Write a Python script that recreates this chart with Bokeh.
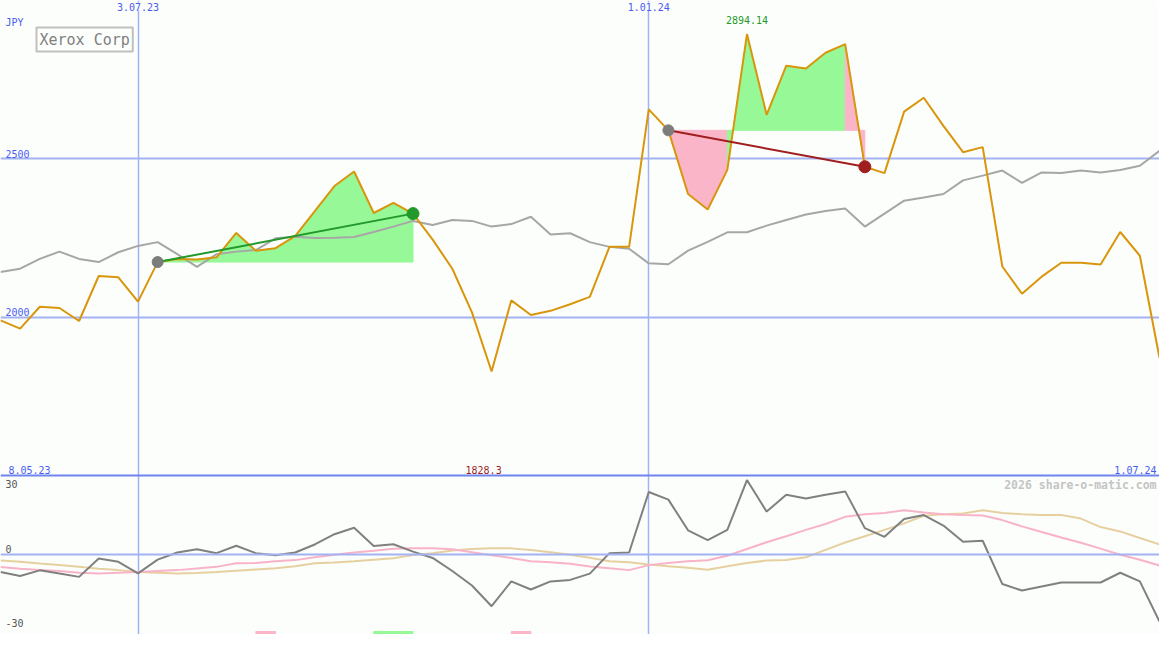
import pandas as pd
from bokeh.plotting import figure
from bokeh.models import Range1d, FixedTicker, Span, Label
from bokeh.embed import file_html
from bokeh.resources import INLINE

# ---------------- data ----------------
dates = pd.date_range("2023-05-15", periods=60, freq="7D")

price = [1990, 1964, 2033, 2029, 1988, 2130, 2126, 2049, 2174, 2184,
         2182, 2189, 2266, 2210, 2218, 2256, 2335, 2414, 2460, 2329,
         2361, 2327, 2245, 2153, 2015, 1828.3, 2053, 2007, 2020, 2041,
         2064, 2222, 2222, 2656, 2590, 2389, 2340, 2465, 2894.14, 2639,
         2794, 2785, 2835, 2862, 2475, 2455, 2649, 2693, 2604, 2521,
         2537, 2160, 2074, 2128, 2172, 2172, 2166, 2269, 2194, 1872]

avg = [2143, 2153, 2184, 2207, 2184, 2174, 2205, 2225, 2237, 2199,
       2159, 2199, 2207, 2212, 2249, 2254, 2250, 2251, 2253, 2269,
       2286, 2304, 2291, 2307, 2304, 2286, 2294, 2317, 2261, 2265,
       2237, 2222, 2216, 2170, 2167, 2210, 2238, 2268, 2268, 2289,
       2307, 2324, 2335, 2343, 2286, 2327, 2368, 2378, 2389, 2432,
       2447, 2463, 2424, 2457, 2455, 2463, 2457, 2465, 2478, 2525]

momentum = [-8.1, -9.9, -7.3, -8.8, -10.3, -1.9, -3.4, -8.7, -2.4, 0.9,
            2.4, 0.6, 4.0, 0.6, -0.4, 0.9, 4.6, 9.3, 12.3, 3.9,
            4.7, 1.3, -1.6, -7.6, -14.3, -23.8, -12.4, -16.1, -12.4, -11.7,
            -8.8, 0.6, 0.9, 28.7, 25.2, 11.1, 6.6, 11.3, 34.2, 19.7,
            27.5, 25.7, 27.5, 29.0, 12.1, 8.1, 16.3, 18.1, 13.3, 5.8,
            6.3, -13.6, -16.6, -14.7, -12.9, -12.9, -12.9, -8.4, -12.4, -30.8]

osc_pink = [-5.8, -6.6, -7.2, -7.6, -8.4, -8.8, -8.4, -8.1, -7.6, -7.2,
            -6.4, -5.7, -4.0, -3.9, -3.1, -2.6, -1.3, -0.1, 0.9, 1.7,
            2.6, 2.8, 2.8, 2.4, 1.0, -0.4, -1.6, -3.1, -3.6, -4.3,
            -5.5, -6.3, -7.2, -4.9, -3.9, -3.1, -2.7, -0.6, 2.5, 5.6,
            8.4, 11.3, 14.0, 17.3, 18.5, 19.1, 20.3, 19.3, 18.5, 18.1,
            17.9, 15.8, 12.9, 10.3, 7.8, 5.4, 2.7, -0.1, -2.4, -5.1]

osc_tan = [-2.8, -3.4, -4.2, -4.8, -5.7, -6.6, -7.2, -8.1, -8.4, -8.8,
           -8.5, -8.1, -7.5, -6.9, -6.3, -5.4, -4.0, -3.7, -3.1, -2.4,
           -1.7, -0.3, 0.6, 1.8, 2.5, 2.8, 2.8, 2.1, 1.0, -0.1,
           -1.5, -3.1, -3.6, -4.6, -5.4, -6.1, -7.0, -5.4, -3.9, -2.8,
           -2.5, -1.3, 2.1, 5.5, 8.4, 11.3, 14.3, 17.8, 18.5, 18.8,
           20.3, 19.1, 18.5, 18.1, 18.1, 16.5, 12.6, 10.6, 7.6, 4.6]

trade_entry = [8, 34]
trade_exit = [21, 44]

signal_start = [13, 19, 26]
signal_end = [14, 21, 27]
signal_kind = ["sell", "buy", "sell"]

price_ticks = [2000, 2500]
osc_ticks = [30, 0, -30]
date_ticks = ["2023-07-03", "2024-01-01"]
date_tick_labels = ["3.07.23", "1.01.24"]
range_labels = ["8.05.23", "1.07.24"]
currency = "JPY"
title = "Xerox Corp"
credit = "2026 share-o-matic.com"

# ---------------- style ----------------
BG = "#fcfefc"
GRID = "#a3b2f2"
SEP = "#7084ee"
BLUE_TXT = "#4a5cf0"
ORANGE = "#d9960c"
AVG_GRAY = "#a6a6a6"
MOM_GRAY = "#808080"
PINK_LINE = "#f9b3c8"
TAN_LINE = "#e6d0a0"
FILL_GREEN = "#97f897"
FILL_PINK = "#fbb5c9"
WIN = "#22992a"
LOSS = "#a01e1e"
FONT = "DejaVu Sans Mono"

W, H = 1159, 634
top_px = H * 487 / 650
bot_px = H - top_px
p_hi, p_lo = 3000.0, 1500.0
upp = (p_hi - p_lo) / top_px
y_lo = p_lo - bot_px * upp
o_hi, o_lo = 36.3, -36.8
oupp = (o_hi - o_lo) / bot_px
o_top = o_hi + top_px * oupp

xms = list(dates.asi8 / 1e6)

p = figure(width=W, height=H, x_axis_type="datetime",
           x_range=Range1d(xms[0], xms[-1]), y_range=Range1d(y_lo, p_hi),
           output_backend="svg", toolbar_location=None, min_border=0,
           background_fill_color=BG, border_fill_color=BG, outline_line_color=None)
p.extra_y_ranges = {"osc": Range1d(o_lo, o_top)}
p.xaxis.visible = False
p.yaxis.visible = False

p.xgrid.ticker = FixedTicker(ticks=[pd.Timestamp(d).value / 1e6 for d in date_ticks])
p.xgrid.grid_line_color = GRID
p.xgrid.grid_line_width = 1.5
p.ygrid.ticker = FixedTicker(ticks=price_ticks)
p.ygrid.grid_line_color = GRID
p.ygrid.grid_line_width = 2

p.add_layout(Span(location=0, dimension="width", y_range_name="osc",
                  line_color=GRID, line_width=2))
p.add_layout(Span(location=p_lo, dimension="width", line_color=SEP, line_width=2))

# trade fills, per segment between price and entry level
xs, ys, cols = [], [], []
for e, x in zip(trade_entry, trade_exit):
    lvl = price[e]
    for i in range(e, x):
        xs.append([xms[i], xms[i + 1], xms[i + 1], xms[i]])
        ys.append([price[i], price[i + 1], lvl, lvl])
        cols.append(FILL_GREEN if price[i + 1] > lvl else FILL_PINK)
p.patches(xs, ys, fill_color=cols, line_color=cols, line_width=1)

p.line(xms, avg, line_color=AVG_GRAY, line_width=2)
p.line(xms, price, line_color=ORANGE, line_width=2)

tcol = [WIN if price[x] > price[e] else LOSS for e, x in zip(trade_entry, trade_exit)]
p.segment(x0=[xms[e] for e in trade_entry], y0=[price[e] for e in trade_entry],
          x1=[xms[x] for x in trade_exit], y1=[price[x] for x in trade_exit],
          line_color=tcol, line_width=2)
p.scatter([xms[e] for e in trade_entry], [price[e] for e in trade_entry],
          size=11, color="#7c7c7c")
p.scatter([xms[x] for x in trade_exit], [price[x] for x in trade_exit],
          size=12, color=tcol)

# oscillator panel
p.line(xms, osc_tan, line_color=TAN_LINE, line_width=2, y_range_name="osc")
p.line(xms, osc_pink, line_color=PINK_LINE, line_width=2, y_range_name="osc")
p.line(xms, momentum, line_color=MOM_GRAY, line_width=2, y_range_name="osc")

p.quad(left=[xms[s] for s in signal_start], right=[xms[e] for e in signal_end],
       bottom=o_lo, top=o_lo + 3 * oupp, y_range_name="osc",
       color=[FILL_GREEN if k == "buy" else FILL_PINK for k in signal_kind])

# ---------------- texts ----------------
def lab(text, x, y, color=BLUE_TXT, size="10px", **kw):
    p.add_layout(Label(x=x, y=y, text=text, text_font=FONT, text_font_size=size,
                       text_color=color, **kw))

for d, t in zip(date_ticks, date_tick_labels):
    lab(t, pd.Timestamp(d).value / 1e6, p_hi, text_align="center", text_baseline="top",
        y_offset=-2, background_fill_color=BG)
lab(currency, xms[0], p_hi, text_baseline="top", x_offset=5, y_offset=-16)
lab(title, xms[0], p_hi, color="#808080", size="15px", text_baseline="top",
    x_offset=36, y_offset=-27, border_line_color="#c0c0c0", border_line_width=2,
    background_fill_color=BG, padding=3)
for v in price_ticks:
    lab(str(v), xms[0], v, text_baseline="bottom", x_offset=5, y_offset=1)
lab(range_labels[0], xms[0], p_lo, text_baseline="bottom", x_offset=8, y_offset=2)
lab(range_labels[1], xms[-1], p_lo, text_baseline="bottom", text_align="right",
    x_offset=-3, y_offset=2)

imax = price.index(max(price))
imin = price.index(min(price))
lab(f"{price[imax]:g}", xms[imax], price[imax], color=WIN, text_align="center",
    text_baseline="bottom", y_offset=10)
lab(f"{price[imin]:g}", xms[imin], p_lo, color=LOSS, text_align="center",
    text_baseline="bottom", x_offset=-8, y_offset=2)

for v in osc_ticks:
    lab(str(v), xms[0], v, color="#555555", text_baseline="top" if v < 0 else "bottom",
        x_offset=5, y_offset=1, y_range_name="osc")
lab(credit, xms[-1], o_hi, color="#c4c4c4", size="11.5px", text_font_style="bold",
    text_align="right", text_baseline="top", x_offset=-3, y_offset=-2, y_range_name="osc")

open("out.html", "w").write(file_html(p, INLINE))
